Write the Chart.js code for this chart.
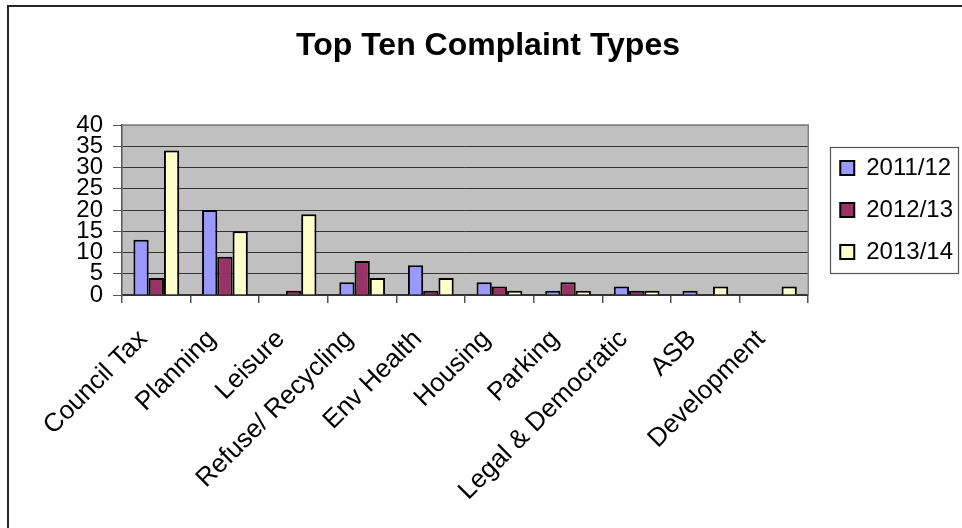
<!DOCTYPE html>
<html>
<head>
<meta charset="utf-8">
<script src="https://cdn.jsdelivr.net/npm/chart.js@4/dist/chart.umd.min.js"></script>
<style>
  html, body { margin: 0; padding: 0; background: #ffffff; }
  canvas { display: block; }
</style>
</head>
<body>
<canvas id="chart" width="962" height="528"></canvas>
<script>
// Complaint counts per category and year
const categories = ['Council Tax', 'Planning', 'Leisure', 'Refuse/ Recycling', 'Env Health',
                    'Housing', 'Parking', 'Legal & Democratic', 'ASB', 'Development'];
const seriesNames = ['2011/12', '2012/13', '2013/14'];
const values2011 = [13, 20, 0, 3, 7, 3, 1, 2, 1, 0];
const values2012 = [4, 9, 1, 8, 1, 2, 3, 1, 0, 0];
const values2013 = [34, 15, 19, 4, 4, 1, 1, 1, 2, 2];
const yTicks = [0, 5, 10, 15, 20, 25, 30, 35, 40];
const titleText = 'Top Ten Complaint Types';

const FONT = "'Liberation Sans', Arial, Helvetica, sans-serif";
const seriesColors = ['#9999FF', '#993366', '#FFFFCC'];
const seriesValues = [values2011, values2012, values2013];

// Grey plot background, outer frame, plot border and legend frame
const chartFrame = {
  id: 'chartFrame',
  beforeDraw(chart) {
    const { ctx, chartArea: a } = chart;
    ctx.save();
    ctx.fillStyle = '#ffffff';
    ctx.fillRect(0, 0, chart.width, chart.height);
    ctx.fillStyle = '#C0C0C0';
    ctx.fillRect(a.left, a.top, a.right - a.left, a.bottom - a.top);
    ctx.restore();
  },
  afterLayout(chart) {
    const lg = chart.legend;
    lg.left += 14; lg.right += 14;
    const tb = chart.titleBlock;
    tb.left += 10; tb.right += 10;
  },
  afterDraw(chart) {
    const { ctx, chartArea: a, legend: lg } = chart;
    ctx.save();
    // outer border (left and top edges)
    ctx.strokeStyle = '#262626';
    ctx.lineWidth = 2;
    ctx.beginPath();
    ctx.moveTo(8, chart.height);
    ctx.lineTo(8, 6);
    ctx.lineTo(chart.width, 6);
    ctx.stroke();
    // plot area border (top and right)
    ctx.strokeStyle = '#808080';
    ctx.lineWidth = 1.5;
    ctx.beginPath();
    ctx.moveTo(a.left, a.top);
    ctx.lineTo(a.right, a.top);
    ctx.lineTo(a.right, a.bottom);
    ctx.stroke();
    // legend frame
    const pad = lg.options.labels.padding;
    const col = lg.columnSizes[0];
    const startY = (lg.top + pad + lg.bottom - col.height) / 2;
    const fx = Math.round(lg.left + pad - 10) + 0.5;
    const fy = Math.round(startY - 9) + 0.5;
    const fw = Math.round(col.width + 15);
    const fh = Math.round(col.height - pad + 18);
    ctx.strokeStyle = '#555555';
    ctx.lineWidth = 1.2;
    ctx.strokeRect(fx, fy, fw, fh);
    ctx.restore();
  }
};

new Chart(document.getElementById('chart'), {
  type: 'bar',
  data: {
    labels: categories,
    datasets: seriesNames.map((name, i) => ({
      label: name,
      data: seriesValues[i],
      backgroundColor: seriesColors[i],
      borderColor: '#000000',
      borderWidth: 2,
      borderSkipped: 'start',
      categoryPercentage: 0.667,
      barPercentage: 1.0
    }))
  },
  options: {
    responsive: false,
    devicePixelRatio: 1,
    animation: false,
    events: [],
    layout: { padding: { left: 7, right: 13, top: 0, bottom: 0 } },
    plugins: {
      title: {
        display: true,
        text: titleText,
        color: '#000000',
        font: { family: FONT, size: 32, weight: 'bold', lineHeight: 1.2 },
        padding: { top: 27, bottom: 59.6 }
      },
      legend: {
        position: 'right',
        fullSize: false,
        labels: {
          boxWidth: 14,
          boxHeight: 14,
          padding: 18,
          color: '#000000',
          font: { family: FONT, size: 24 }
        }
      },
      tooltip: { enabled: false }
    },
    scales: {
      x: {
        afterFit(scale) { scale.height = 233; },
        ticks: {
          color: '#000000',
          font: { family: FONT, size: 26 },
          minRotation: 45,
          maxRotation: 45,
          autoSkip: false,
          padding: 21,
          labelOffset: -13
        },
        grid: { drawOnChartArea: false, offset: true, tickLength: 8, color: '#555555', lineWidth: 1.5 },
        border: { color: '#333333', width: 1.5 }
      },
      y: {
        min: 0,
        max: 40,
        afterBuildTicks(scale) { scale.ticks = yTicks.map(v => ({ value: v })); },
        afterFit(scale) { scale.width = 115; },
        ticks: { color: '#000000', font: { family: FONT, size: 24 }, padding: 10, autoSkip: false },
        grid: {
          color: c => (c.tick && c.tick.value === 40 ? '#808080' : '#333333'),
          tickColor: '#555555',
          lineWidth: 1,
          tickLength: 9
        },
        border: { color: '#555555', width: 1.5 }
      }
    }
  },
  plugins: [chartFrame]
});
</script>
</body>
</html>
